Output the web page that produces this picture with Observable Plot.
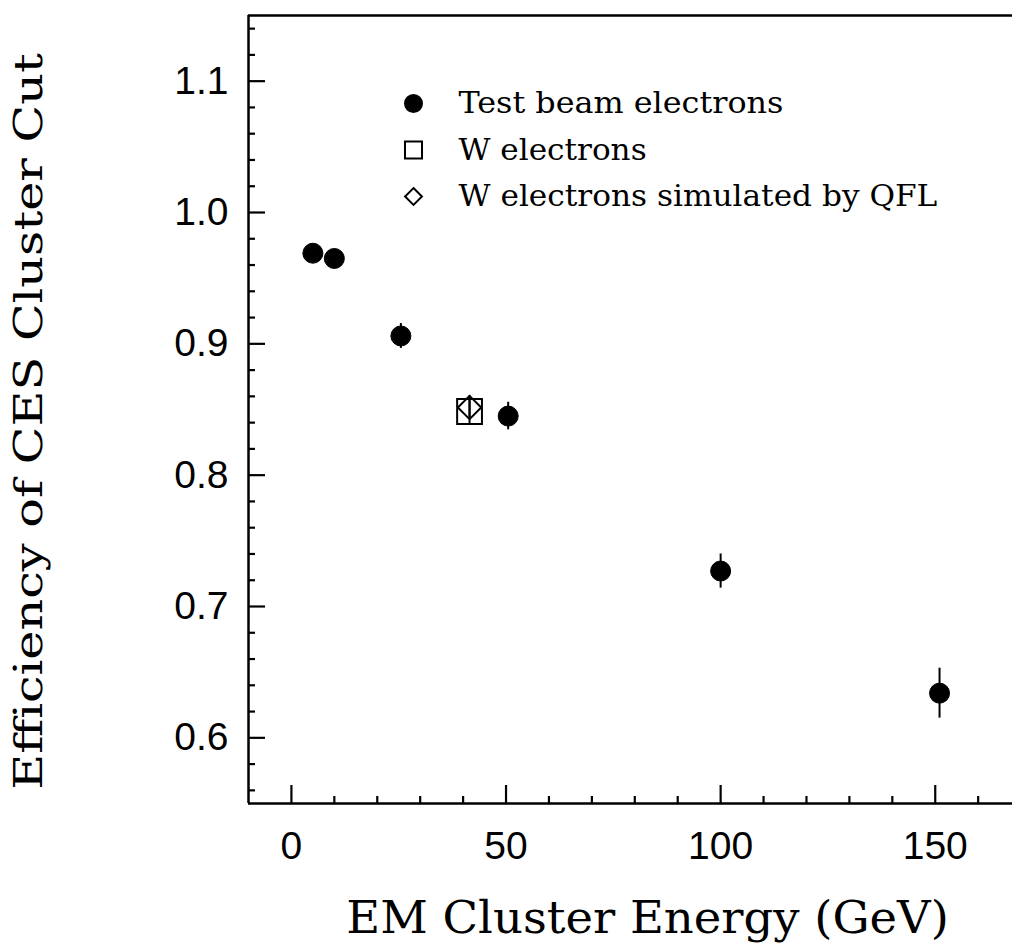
<!DOCTYPE html>
<html>
<head>
<meta charset="utf-8">
<script src="https://cdn.jsdelivr.net/npm/d3@7"></script>
<script src="https://cdn.jsdelivr.net/npm/@observablehq/plot@0.6"></script>
<style>
  html, body { margin: 0; padding: 0; background: #fff; }
  #chart { width: 1012px; height: 947px; }
</style>
</head>
<body>
<div id="chart"></div>
<script>
// ---- data ----
const tbEnergy = [5, 10, 25.5, 50.5, 100, 151];
const tbEff    = [0.969, 0.965, 0.906, 0.845, 0.727, 0.634];
const tbErr    = [0.004, 0.004, 0.0095, 0.0105, 0.013, 0.019];

const wEnergy = [41.5];
const wEff    = [0.8485];
const wErr    = [0.010];

const qflEnergy = [41.5];
const qflEff    = [0.8515];
const qflErr    = [0.009];

const xDomain = [-10, 168];
const yDomain = [0.55, 1.15];
const xMajorTicks = [0, 50, 100, 150];
const xMinorTicks = [10, 20, 30, 40, 60, 70, 80, 90, 110, 120, 130, 140, 160];
const yMajorTicks = [0.6, 0.7, 0.8, 0.9, 1.0, 1.1];
const yMinorTicks = [0.56, 0.58, 0.62, 0.64, 0.66, 0.68, 0.72, 0.74, 0.76, 0.78, 0.82, 0.84, 0.86, 0.88,
                     0.92, 0.94, 0.96, 0.98, 1.02, 1.04, 1.06, 1.08, 1.12, 1.14];

const xTitle = "EM Cluster Energy (GeV)";
const yTitle = "Efficiency of CES Cluster Cut";
const legendLabels = ["Test beam electrons", "W electrons", "W electrons simulated by QFL"];
const legendSymbols = ["circle", "square", "diamond2"];

// ---- tables ----
const testBeam = tbEnergy.map((e, i) => ({e, eff: tbEff[i], err: tbErr[i]}));
const wEl = wEnergy.map((e, i) => ({e, eff: wEff[i], err: wErr[i]}));
const qfl = qflEnergy.map((e, i) => ({e, eff: qflEff[i], err: qflErr[i]}));

const W = 1012, H = 947;
const mL = 248, mR = 0, mT = 15, mB = 144;
const plotW = W - mL - mR, plotH = H - mT - mB;

const serif = "DejaVu Serif";
const sans = "Liberation Sans, Arial, sans-serif";

const legendR = {circle: 8.5, square: 9.6, diamond2: 7.6};

const legendMarks = legendLabels.flatMap((lab, i) => {
  const dy = 88 + i * 46.5;
  const sym = legendSymbols[i];
  return [
    Plot.dot([lab], {frameAnchor: "top-left", dx: 165, dy, symbol: sym, r: legendR[sym],
      fill: sym === "circle" ? "black" : "none", stroke: "black", strokeWidth: 2}),
    Plot.text([lab], {frameAnchor: "top-left", dx: 210, dy, text: d => d, textAnchor: "start",
      lineAnchor: "middle", fontFamily: serif, fontSize: 30, fill: "black"})
  ];
});

const chart = Plot.plot({
  width: W, height: H,
  marginLeft: mL, marginRight: mR, marginTop: mT, marginBottom: mB,
  x: {domain: xDomain},
  y: {domain: yDomain},
  style: {background: "white", color: "black", overflow: "visible"},
  marks: [
    // frame (left, bottom, top)
    Plot.ruleX([xDomain[0]], {stroke: "black", strokeWidth: 2.5}),
    Plot.ruleY([yDomain[0]], {stroke: "black", strokeWidth: 2.5}),
    Plot.ruleY([yDomain[1]], {stroke: "black", strokeWidth: 2.5}),
    // inward ticks
    Plot.ruleY(yMajorTicks, {insetRight: plotW - 17, stroke: "black", strokeWidth: 2.2}),
    Plot.ruleY(yMinorTicks, {insetRight: plotW - 7, stroke: "black", strokeWidth: 2.2}),
    Plot.ruleX(xMajorTicks, {insetTop: plotH - 18, stroke: "black", strokeWidth: 2.2}),
    Plot.ruleX(xMinorTicks, {insetTop: plotH - 7, stroke: "black", strokeWidth: 2.2}),
    // tick labels
    Plot.axisY({ticks: yMajorTicks, tickSize: 0, tickPadding: 20, tickFormat: d3.format(".1f"),
      fontSize: 39, fontFamily: sans, label: null}),
    Plot.axisX({ticks: xMajorTicks, tickSize: 0, tickPadding: 28, tickFormat: d3.format("d"),
      fontSize: 39, fontFamily: sans, label: null}),
    // error bars
    Plot.ruleX(testBeam, {x: "e", y1: d => d.eff - d.err, y2: d => d.eff + d.err, stroke: "black", strokeWidth: 2}),
    Plot.ruleX(wEl, {x: "e", y1: d => d.eff - d.err, y2: d => d.eff + d.err, stroke: "black", strokeWidth: 2}),
    Plot.ruleX(qfl, {x: "e", y1: d => d.eff - d.err, y2: d => d.eff + d.err, stroke: "black", strokeWidth: 2}),
    // points
    Plot.dot(testBeam, {x: "e", y: "eff", r: 10, fill: "black", stroke: "black", strokeWidth: 1}),
    Plot.dot(wEl, {x: "e", y: "eff", symbol: "square", r: 14, fill: "none", stroke: "black", strokeWidth: 2}),
    Plot.dot(qfl, {x: "e", y: "eff", symbol: "diamond2", r: 10.5, fill: "none", stroke: "black", strokeWidth: 2}),
    // legend
    ...legendMarks,
    // axis titles
    Plot.text([xTitle], {frameAnchor: "bottom", dx: 17, dy: 115, text: d => d,
      textAnchor: "middle", lineAnchor: "middle", fontFamily: serif, fontSize: 45, fill: "black"}),
    Plot.text([yTitle], {frameAnchor: "left", dx: -219, dy: 12, rotate: -90, text: d => d,
      textAnchor: "middle", lineAnchor: "middle", fontFamily: serif, fontSize: 39, fill: "black"})
  ]
});

// typewriter-like fixed advance per character for the serif texts
const charAdvance = new Map([
  [xTitle, 26.2],
  [yTitle, 25.4],
  ...legendLabels.map(l => [l, 17.1])
]);
d3.select(chart).selectAll("text").each(function () {
  const t = this.textContent;
  if (charAdvance.has(t)) {
    this.setAttribute("textLength", (t.length * charAdvance.get(t)).toFixed(1));
    this.setAttribute("lengthAdjust", "spacingAndGlyphs");
  }
});

document.getElementById("chart").appendChild(chart);
</script>
</body>
</html>
